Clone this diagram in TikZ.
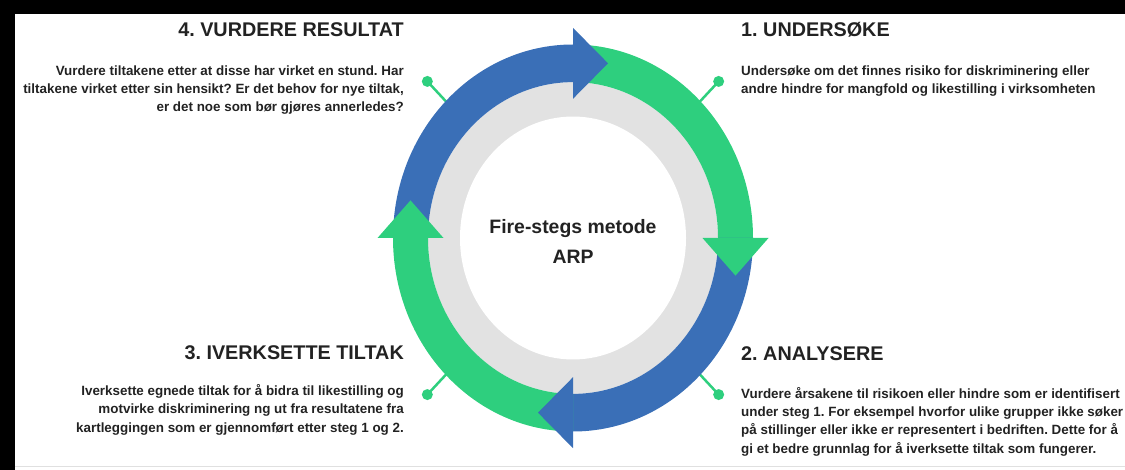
\documentclass[tikz,border=0pt]{standalone}
\usepackage{fontspec}
\setmainfont{Liberation Sans}
\usepackage{xcolor}
\usetikzlibrary{positioning, calc}
\definecolor{ringblue}{HTML}{3A6FB7}
\definecolor{ringgreen}{HTML}{2ECF7E}
\definecolor{ringgray}{HTML}{E2E2E2}
\definecolor{textdark}{HTML}{222222}
\frenchspacing

\begin{document}
\begin{tikzpicture}[
    x=1pt, y=-1pt,
    heading/.style={inner sep=0pt, text=textdark, font=\fontsize{19.8}{23}\selectfont\bfseries},
    bodytext/.style={inner sep=0pt, text=textdark, font=\fontsize{13.4}{18.3}\selectfont\bfseries},
    centertext/.style={inner sep=0pt, text=textdark, align=center, font=\fontsize{19.4}{29.6}\selectfont\bfseries},
    dot/.style={circle, fill=ringgreen, inner sep=0pt, minimum size=11pt},
    leader/.style={draw=ringgreen, line width=2.5pt}
]
    \useasboundingbox (0,0) rectangle (1125,470);
    % screenshot frame
    \fill[black] (0,0) rectangle (1125,14);
    \fill[black] (0,0) rectangle (15,470);
    \draw[black!12, line width=1.5pt] (15,466.5) -- (1125,466.5);

    % ring
    \begin{scope}[shift={(573,238)}, yscale=-1.075]
        \foreach \ang/\i in {45/1, -45/2, -135/3, 135/4} {
            \coordinate (lead\i) at (\ang:170);
            \node[dot] (dot\i) at (\ang:206) {};
            \draw[leader] (lead\i) -- (dot\i.center);
        }
        \fill[ringgray] (0,0) circle[radius=145];
        \fill[white] (0,0) circle[radius=113];
        \foreach \ang/\col in {180/ringblue, 90/ringgreen, 0/ringblue, -90/ringgreen}
            \fill[\col] (\ang:180) arc[start angle=\ang, delta angle=-90, radius=180]
                -- ({\ang-90}:145) arc[start angle=\ang-90, delta angle=90, radius=145] -- cycle;
        \foreach \ang/\col in {90/ringblue, 0/ringgreen, -90/ringblue, 180/ringgreen}
            \fill[\col, rotate=\ang] (129.5,0) -- (195.5,0) -- (162.5,-35) -- cycle;
        \node[centertext] (metode) at (0,-3) {Fire-stegs metode\\ARP};
    \end{scope}

    \node[heading, anchor=base west] (undersoke) at (741,37) {1. UNDERSØKE};
    \node[bodytext, align=left, below=28.4pt of undersoke.base west, anchor=north west] (undersoketext)
        {Undersøke om det finnes risiko for diskriminering eller\\andre hindre for mangfold og likestilling i virksomheten};

    \node[heading, anchor=base west] (analysere) at (741,361) {2. ANALYSERE};
    \node[bodytext, align=left, below=26pt of analysere.base west, anchor=north west] (analyseretext)
        {Vurdere årsakene til risikoen eller hindre som er identifisert\\under steg 1. For eksempel hvorfor ulike grupper ikke søker\\på stillinger eller ikke er representert i bedriften. Dette for å\\gi et bedre grunnlag for å iverksette tiltak som fungerer.};

    \node[heading, anchor=base east] (iverksette) at (404,360) {3. IVERKSETTE TILTAK};
    \node[bodytext, align=right, below=24.4pt of iverksette.base east, anchor=north east] (iverksettetext)
        {Iverksette egnede tiltak for å bidra til likestilling og\\motvirke diskriminering ng ut fra resultatene fra\\kartleggingen som er gjennomført etter steg 1 og 2.};

    \node[heading, anchor=base east] (vurdere) at (404,37) {4. VURDERE RESULTAT};
    \node[bodytext, align=right, below=28.4pt of vurdere.base east, anchor=north east] (vurderetext)
        {Vurdere tiltakene etter at disse har virket en stund. Har\\tiltakene virket etter sin hensikt? Er det behov for nye tiltak,\\er det noe som bør gjøres annerledes?};
\end{tikzpicture}
\end{document}
